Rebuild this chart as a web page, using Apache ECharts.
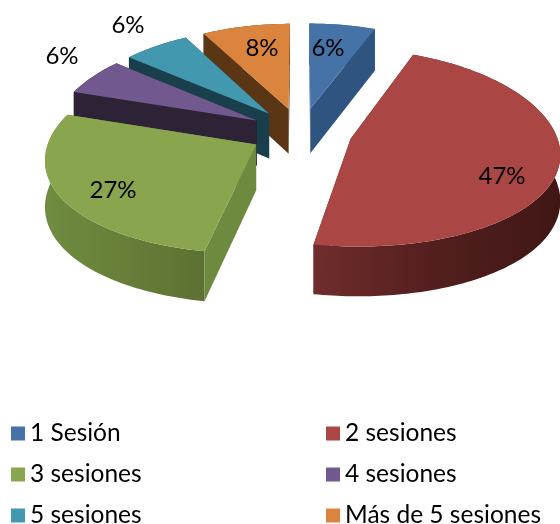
<!DOCTYPE html>
<html><head><meta charset="utf-8">
<style>html,body{margin:0;padding:0;background:#fff}#c{width:560px;height:524px}</style>
<script src="https://cdn.jsdelivr.net/npm/echarts@6/dist/echarts.min.js"></script>
</head><body><div id="c"></div>
<script>
const categories = ['1 Sesión','2 sesiones','3 sesiones','4 sesiones','5 sesiones','Más de 5 sesiones'];
const percentValues = [6,47,27,6,6,8];
const topColors = ['#4573a7','#aa4643','#89a54e','#71588f','#4198af','#db843d'];
const radialWallColors = ['#2f5480','#6e2c2c','#6e8a3e','#2d2236','#1a3f4c','#5b3615'];
const arcWallStops = [
  ['#2f5480','#2f5480','#2f5480'],
  ['#6f2d2c','#521f1e','#401716'],
  ['#6f8c40','#677f39','#5c7132'],
  ['#2d2236','#2d2236','#2d2236'],
  ['#1a3f4c','#1a3f4c','#1a3f4c'],
  ['#5b3615','#5b3615','#5b3615']
];
// layout of the drawing (not data): a flat exploded pie seen through a projective camera
const PIE = {cx:301, cy:132, rx:205, ry:96.8, qx:0.13, qy:0.09, depth:45.5, qd:0.08, explode:0.25};
const labelAnchors = [[328,48],[502,176],[113,190],[62,56],[128,25],[262,48]];
const legendSlots = [[11,421],[326,421],[11,462],[326,462],[11,503],[326,503]];

const total = percentValues.reduce((a,b)=>a+b,0);
let acc = 0;
const slices = percentValues.map(v=>{
  const a0 = acc/total*2*Math.PI; acc += v; const a1 = acc/total*2*Math.PI;
  return {a0,a1,mid:(a0+a1)/2};
});
const rank = slices.map((s,i)=>[-Math.cos(s.mid),i]).sort((a,b)=>a[0]-b[0]).map(x=>x[1]);

function proj(mid,t,r){
  const a=PIE.explode*Math.sin(mid)+r*Math.sin(t), b=PIE.explode*Math.cos(mid)+r*Math.cos(t);
  return {x:PIE.cx+PIE.rx*a/(1+PIE.qx*b), y:PIE.cy-PIE.ry*b/(1+PIE.qy*b), d:PIE.depth/(1+PIE.qd*b)};
}
function pt(p,down){return [p.x, p.y+(down?p.d:0)];}

function renderSlice(i){
  return function(){
    const s=slices[i];
    const n=Math.max(4,Math.ceil((s.a1-s.a0)/0.02));
    const arc=[];
    for(let k=0;k<=n;k++) arc.push(proj(s.mid,s.a0+(s.a1-s.a0)*k/n,1));
    const apex=proj(s.mid,0,0);
    const st=arcWallStops[i];
    const children=[];
    const wallShape=arc.map(p=>pt(p,false)).concat(arc.slice().reverse().map(p=>pt(p,true)));
    children.push({type:'polygon',shape:{points:wallShape},silent:true,
      style:{fill:new echarts.graphic.LinearGradient(0,0,1,0,[
        {offset:0,color:st[0]},{offset:.5,color:st[1]},{offset:1,color:st[2]}])}});
    [arc[0],arc[n]].forEach(e=>{
      children.push({type:'polygon',silent:true,shape:{points:[pt(apex,false),pt(e,false),pt(e,true),pt(apex,true)]},
        style:{fill:radialWallColors[i]}});
    });
    children.push({type:'polygon',silent:true,shape:{points:[pt(apex,false)].concat(arc.map(p=>pt(p,false)))},
      style:{fill:topColors[i]}});
    children.push({type:'text',silent:true,z2:10,
      style:{x:labelAnchors[i][0],y:labelAnchors[i][1],text:percentValues[i]+'%',
        fill:'#000',font:'24px Lato, "Noto Sans", sans-serif',align:'center',verticalAlign:'middle'}});
    return {type:'group',children};
  };
}

const series = categories.map((name,i)=>({
  type:'custom',name,coordinateSystem:'none',data:[[percentValues[i]]],
  z:2+rank.indexOf(i),animation:false,silent:true,
  itemStyle:{color:topColors[i]},renderItem:renderSlice(i)
}));
const legend = categories.map((name,i)=>({
  data:[name],left:legendSlots[i][0],top:legendSlots[i][1],padding:0,
  icon:'rect',itemWidth:14,itemHeight:14,itemGap:7,selectedMode:false,
  textStyle:{color:'#000',fontSize:24.5,fontFamily:'Lato, "Noto Sans", sans-serif',lineHeight:14,padding:0}
}));
const chart = echarts.init(document.getElementById('c'),null,{renderer:'canvas'});
chart.setOption({animation:false,backgroundColor:'#fff',legend,series});
</script></body></html>
